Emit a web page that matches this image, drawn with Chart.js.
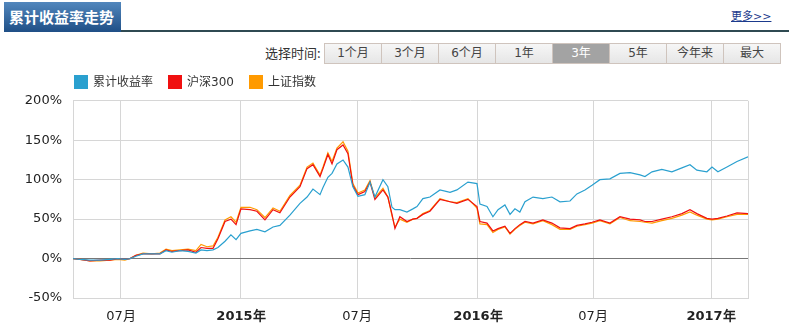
<!DOCTYPE html>
<html lang="zh-CN">
<head>
  <meta charset="UTF-8" />
  <title>累计收益率走势</title>
  <script src="https://cdn.jsdelivr.net/npm/chart.js"></script>
  <style>
    body { margin: 0; width: 792px; height: 329px; background: #fff; position: relative; overflow: hidden;
           font-family: "DejaVu Sans", "Noto Sans CJK SC", sans-serif; color: #333; }
    #tab { position: absolute; left: 4px; top: 2px; width: 112px; height: 30px; padding-left: 5px;
           background: linear-gradient(#5287bd, #1f4f86); color: #fff; font: bold 15px "Noto Sans CJK SC", sans-serif;
           line-height: 30px; }
    #rule { position: absolute; left: 121px; top: 30px; width: 668px; height: 2px; background: #2f4a52; }
    #more { position: absolute; left: 731px; top: 7px; font-size: 11px; color: #1b3a8c; text-decoration: underline; }
    #pick { position: absolute; left: 265px; top: 44px; font: 13px "Noto Sans CJK SC", sans-serif; line-height: 18px; }
    #btns { position: absolute; left: 324px; top: 43px; display: flex; }
    #btns span { width: 56px; height: 19px; border: 1px solid #cfc4bd; border-left: none; background: linear-gradient(#f6f6f6, #e6e6e6);
                 font-size: 12px; text-align: center; line-height: 19px; color: #444; }
    #btns span:first-child { border-left: 1px solid #cfc4bd; }
    #btns span.on { background: #a3a3a3; color: #fff; }
    #legend { position: absolute; left: 74px; top: 75px; display: flex; font: 12px "DejaVu Sans", "Noto Sans CJK SC", sans-serif; line-height: 14px; z-index: 2; }
    #legend i { display: inline-block; width: 14px; height: 14px; margin-right: 5px; vertical-align: top; }
    #legend div { margin-right: 15px; }
    #wrap { position: absolute; left: 0; top: 82px; }
  </style>
</head>
<body>
  <div id="tab">累计收益率走势</div>
  <div id="rule"></div>
  <div id="more">更多&gt;&gt;</div>
  <div id="pick">选择时间:</div>
  <div id="btns"><span>1个月</span><span>3个月</span><span>6个月</span><span>1年</span><span class="on">3年</span><span>5年</span><span>今年来</span><span>最大</span></div>
  <div id="legend"></div>
  <div id="wrap"><canvas id="chart" width="792" height="247"></canvas></div>

  <script>
    // x = months counted from 2014-01
    const months = [3.56, 3.92, 4.42, 4.93, 5.44, 5.85, 6.20, 6.46, 6.76, 7.12, 7.58, 7.98, 8.29, 8.59, 9.00, 9.41,
      9.81, 10.07, 10.37, 10.68, 10.93, 11.29, 11.59, 11.85, 12.10, 12.56, 12.91, 13.32, 13.73, 14.08, 14.59, 15.10,
      15.46, 15.76, 16.12, 16.27, 16.52, 16.73, 16.98, 17.29, 17.54, 17.79, 18.05, 18.40, 18.66, 18.91, 19.32, 19.57,
      19.78, 19.93, 20.18, 20.54, 20.84, 21.05, 21.35, 21.71, 22.22, 22.73, 23.08, 23.64, 24.10, 24.25, 24.61, 24.91,
      25.17, 25.52, 25.78, 26.03, 26.28, 26.54, 26.95, 27.45, 27.91, 28.32, 28.83, 29.18, 29.59, 29.95, 30.35, 30.86,
      31.37, 31.88, 32.39, 32.64, 33.00, 33.50, 34.01, 34.52, 34.93, 35.28, 35.79, 36.05, 36.35, 36.81, 37.32, 37.88];

    const fundReturn = [0, -1, -2, -2, -1, 0, -1, 0, 3, 6, 6, 6, 10, 8, 10, 9,
      7, 11, 10, 11, 14, 22, 30, 24, 32, 35, 37, 34, 40, 42, 55, 70,
      78, 88, 81, 90, 103, 108, 120, 125, 116, 91, 79, 81, 97, 78, 100, 91,
      65, 62, 62, 59, 63, 66, 76, 78, 87, 84, 87, 97, 95, 69, 66, 53,
      62, 68, 56, 63, 59, 72, 78, 76, 78, 72, 73, 82, 87, 93, 100, 101,
      108, 109, 106, 104, 110, 113, 110, 115, 119, 112, 110, 116, 110, 116, 123, 129];

    const hs300 = [0, -1, -3, -2, -2, 0, -1, 0, 4, 6, 6, 6, 11, 9, 10, 11,
      8, 14, 13, 13, 25, 47, 50, 43, 63, 62, 60, 49, 62, 58, 78, 91,
      114, 119, 104, 114, 132, 120, 138, 144, 133, 93, 81, 85, 97, 75, 87, 78,
      56, 38, 53, 47, 50, 51, 56, 60, 75, 72, 70, 75, 66, 47, 45, 35,
      38, 41, 32, 38, 43, 47, 45, 49, 45, 39, 38, 42, 44, 46, 49, 45,
      53, 50, 49, 47, 47, 50, 53, 57, 62, 57, 51, 50, 51, 54, 58, 57];

    const shIndex = [0, -1, -3, -3, -2, -1, -2, 0, 4, 7, 6, 7, 12, 10, 11, 12,
      10, 18, 15, 16, 27, 49, 53, 46, 65, 65, 62, 52, 64, 60, 80, 93,
      116, 121, 106, 116, 134, 123, 140, 148, 136, 95, 83, 87, 99, 77, 89, 78,
      54, 40, 50, 46, 50, 51, 57, 61, 76, 72, 71, 76, 64, 44, 43, 33,
      37, 40, 31, 37, 42, 46, 44, 48, 43, 37, 37, 41, 43, 45, 48, 44,
      52, 48, 47, 46, 45, 48, 51, 55, 59, 55, 50, 49, 50, 53, 56, 56];

    const seriesNames = ['累计收益率', '沪深300', '上证指数'];
    const seriesColors = ['#2aa0cf', '#f01010', '#ff9a00'];
    const xTickPos = [6, 12.1, 18, 24.15, 30, 36];
    const xTickText = ['07月', '2015年', '07月', '2016年', '07月', '2017年'];
    const yTicks = [-50, 0, 50, 100, 150, 200];

    // legend
    const legend = document.getElementById('legend');
    seriesNames.forEach((n, i) => {
      const d = document.createElement('div');
      d.innerHTML = '<i style="background:' + seriesColors[i] + '"></i>' + n;
      legend.appendChild(d);
    });

    const toPoints = arr => arr.map((v, i) => ({ x: months[i], y: v }));
    const all = [fundReturn, hs300, shIndex];

    new Chart(document.getElementById('chart'), {
      type: 'line',
      data: {
        datasets: all.map((arr, i) => ({
          label: seriesNames[i],
          data: toPoints(arr),
          borderColor: seriesColors[i],
          borderWidth: 1.2,
          pointRadius: 0,
          tension: 0,
          fill: false,
          order: i
        }))
      },
      options: {
        responsive: false,
        animation: false,
        layout: { padding: { top: 1, right: 44 } },
        plugins: { legend: { display: false }, tooltip: { enabled: false } },
        scales: {
          x: {
            type: 'linear',
            min: months[0],
            max: months[months.length - 1],
            afterBuildTicks: s => {
              s.ticks = [s.min].concat(xTickPos).concat([s.max]).map(v => ({ value: v }));
            },
            afterFit: s => { s.height = 31; },
            ticks: {
              autoSkip: false,
              maxRotation: 0,
              padding: 11,
              color: '#222',
              font: ctx => ({ family: 'DejaVu Sans', size: 13,
                weight: (xTickText[xTickPos.indexOf(ctx.tick && ctx.tick.value)] || '').indexOf('年') > 0 ? 'bold' : 'normal' }),
              callback: v => xTickText[xTickPos.indexOf(v)] || ''
            },
            grid: { color: '#d6d6d6', drawTicks: false },
            border: { display: true, color: '#d6d6d6' }
          },
          y: {
            min: -50,
            max: 200,
            afterBuildTicks: s => { s.ticks = yTicks.map(v => ({ value: v })); },
            afterFit: s => { s.width = 73; },
            ticks: {
              padding: 11,
              color: '#222',
              font: { family: 'DejaVu Sans', size: 13 },
              callback: v => v + '%'
            },
            grid: {
              color: ctx => ctx.tick && ctx.tick.value === 0 ? '#777' : '#d6d6d6',
              drawTicks: false
            },
            border: { display: false }
          }
        }
      }
    });
  </script>
</body>
</html>
